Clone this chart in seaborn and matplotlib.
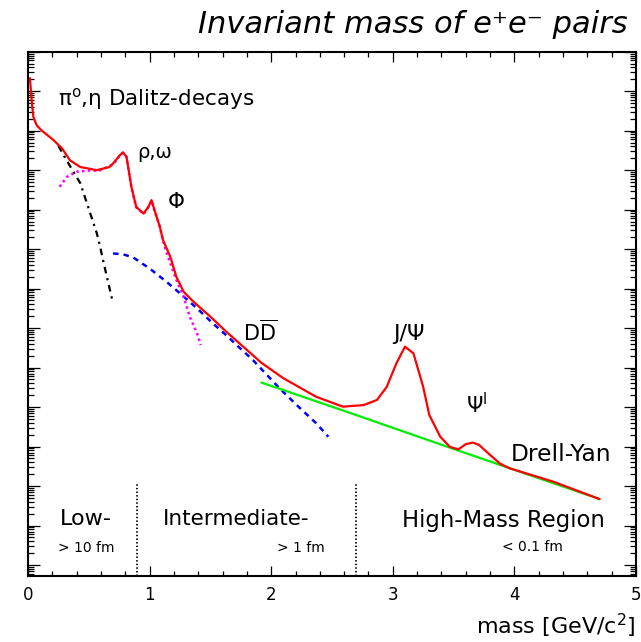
import numpy as np
import pandas as pd
import matplotlib
matplotlib.use("Agg")
import matplotlib.pyplot as plt
import seaborn as sns
from matplotlib.ticker import LogLocator, NullFormatter, MultipleLocator, FixedLocator

# ---- data (mass in GeV/c^2, yields as log10 of arbitrary units) ----
total_mass = [0.016, 0.03, 0.044, 0.071, 0.11, 0.21, 0.28, 0.345, 0.43, 0.565, 0.67, 0.70,
              0.756, 0.78, 0.81, 0.85, 0.89, 0.95, 0.99, 1.016, 1.04, 1.085, 1.11, 1.17,
              1.22, 1.28, 1.36, 1.50, 1.63, 1.74, 1.92, 2.10, 2.37, 2.59, 2.76, 2.87, 2.95,
              3.03, 3.10, 3.17, 3.25, 3.30, 3.39, 3.47, 3.54, 3.60, 3.66, 3.71, 3.77, 3.88,
              3.96, 4.32, 4.70]
total_log = [12.33, 11.77, 11.35, 11.14, 11.01, 10.76, 10.55, 10.25, 10.08, 10.0, 10.08, 10.17,
             10.38, 10.45, 10.34, 9.58, 9.07, 8.90, 9.07, 9.24, 8.99, 8.56, 8.23, 7.81,
             7.30, 6.92, 6.67, 6.29, 5.91, 5.61, 5.12, 4.73, 4.26, 4.01, 4.05, 4.18, 4.51,
             5.11, 5.53, 5.36, 4.51, 3.80, 3.25, 2.99, 2.93, 3.06, 3.10, 3.04, 2.87, 2.57,
             2.45, 2.11, 1.67]

dalitz_mass = [0.25, 0.30, 0.43, 0.565, 0.59, 0.63, 0.69]
dalitz_log = [10.62, 10.34, 9.67, 8.41, 8.10, 7.55, 6.75]

vector_mass = [0.26, 0.32, 0.40, 0.50, 0.59, 0.70, 0.756, 0.78, 0.81, 0.85, 0.89, 0.95,
               0.99, 1.016, 1.04, 1.085, 1.11, 1.14, 1.22, 1.28, 1.33, 1.39, 1.42]
vector_log = [9.58, 9.83, 9.96, 9.99, 9.99, 10.15, 10.37, 10.44, 10.33, 9.57, 9.06, 8.89,
              9.06, 9.23, 8.98, 8.55, 8.22, 7.90, 7.22, 6.79, 6.29, 5.87, 5.57]

charm_mass = [0.70, 0.78, 0.865, 1.00, 1.14, 1.25, 1.39, 1.52, 1.63, 1.73, 1.85, 2.07,
              2.21, 2.37, 2.47]
charm_log = [7.89, 7.87, 7.79, 7.51, 7.17, 6.88, 6.50, 6.12, 5.82, 5.53, 5.19, 4.47,
             4.05, 3.59, 3.25]

dy_mass = [1.92, 2.65, 3.49, 4.70]
dy_log = [4.62, 3.85, 2.95, 1.67]

region_bounds = [0.9, 2.7]
x_ticks = [0, 1, 2, 3, 4, 5]

# ---- style ----
sns.set_style("ticks")
plt.rcParams['font.family'] = ['DejaVu Sans']
plt.rcParams['mathtext.fontset'] = 'dejavusans'
for k in ['text.color', 'axes.labelcolor', 'xtick.color', 'ytick.color', 'axes.edgecolor']:
    plt.rcParams[k] = 'black'

W, H = 641, 642
fig = plt.figure(figsize=(W / 100, H / 100), dpi=100)
ax = fig.add_axes([28 / W, (H - 576) / H, 608 / W, (576 - 51.7) / H])

def curve(m, lg, **kw):
    df = pd.DataFrame({"mass": m, "yield": 10 ** np.asarray(lg, dtype=float)})
    sns.lineplot(data=df, x="mass", y="yield", sort=False, estimator=None, ax=ax, **kw)

curve(charm_mass, charm_log, color="#0000ff", lw=1.8, linestyle=(0, (2.2, 2.0)))
curve(dalitz_mass, dalitz_log, color="black", lw=1.6, linestyle=(0, (3, 2.2, 1, 2.2)))
curve(vector_mass, vector_log, color="#ff00ff", lw=1.8, linestyle=(0, (1, 1.3)))
curve(dy_mass, dy_log, color="#00ee00", lw=1.6)
curve(total_mass, total_log, color="#ff0000", lw=1.6)

ax.set_yscale("log")
ax.set_xlim(0, 5)
ax.set_ylim(10 ** (-11 / 39.5), 1e13)

ax.yaxis.set_major_locator(LogLocator(base=10, numticks=100))
ax.yaxis.set_minor_locator(LogLocator(base=10, subs=np.arange(2, 10), numticks=1000))
ax.yaxis.set_major_formatter(NullFormatter())
ax.yaxis.set_minor_formatter(NullFormatter())
ax.xaxis.set_major_locator(FixedLocator(x_ticks))
ax.xaxis.set_minor_locator(MultipleLocator(0.2))
ax.set_xticklabels([str(t) for t in x_ticks])

ax.tick_params(axis="both", which="both", direction="in", top=True, right=True,
               labelsize=12, pad=7.5, width=0.9, color="black", labelcolor="black")
ax.tick_params(axis="x", which="major", length=7.2)
ax.tick_params(axis="x", which="minor", length=3.6)
ax.tick_params(axis="y", which="major", length=8.6)
ax.tick_params(axis="y", which="minor", length=4.3)
for s in ax.spines.values():
    s.set_linewidth(1.5)
    s.set_color("black")

ax.set_ylabel("")
ax.set_xlabel("mass [GeV/c$^{2}$]", fontsize=16, ha="right", va="baseline", color="black")
ax.xaxis.set_label_coords(1.0, (576 - 634.5) / 524.3)

ax.set_title("Invariant mass of e\u207ae\u207b pairs", loc="right", fontsize=22,
             fontstyle="italic", pad=13.2, x=(628 - 28) / 608, color="black")

# region separators
for b in region_bounds:
    ax.axvline(b, ymin=0, ymax=(576 - 484) / 524.3, color="black", lw=1.3,
               linestyle=(0, (0.8, 1.2)))

def lab(px, py, s, size, **kw):
    ax.text((px - 28) / 608, (576 - py) / 524.3, s, transform=ax.transAxes,
            fontsize=size, ha="left", va="baseline", color="black", **kw)

lab(58, 105, "\u03c0$^{\\mathrm{o}}$,\u03b7 Dalitz-decays", 15.5)
lab(137, 158, "\u03c1,\u03c9", 14)
lab(168, 208, "\u03a6", 15.5)
lab(243, 340.7, "D$\\overline{\\mathrm{D}}$", 15)
lab(393, 340, "J/\u03a8", 16)
lab(466, 413, "\u03a8$^{\\mathrm{l}}$", 15)
lab(511, 460.7, "Drell-Yan", 16.8)
lab(60, 525, "Low-", 16)
lab(163, 525, "Intermediate-", 15.5)
lab(402, 526.7, "High-Mass Region", 16.4)
lab(58, 552, "> 10 fm", 10)
lab(277, 552, "> 1 fm", 10)
lab(502, 551, "< 0.1 fm", 10)

fig.savefig("out.png", dpi=100)
